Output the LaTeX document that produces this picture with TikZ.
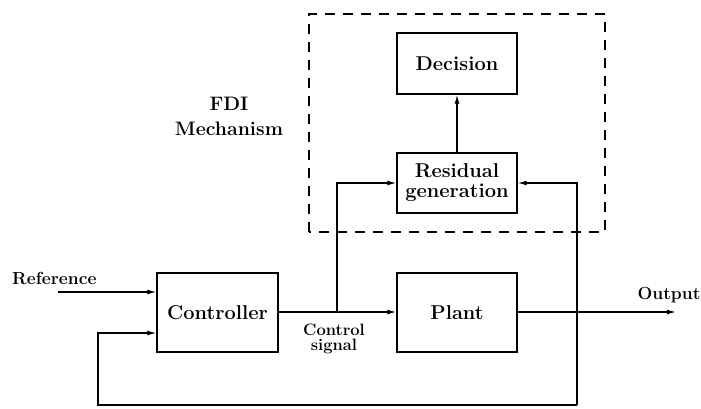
\documentclass[tikz,border=0pt]{standalone}
\usetikzlibrary{arrows.meta}
\begin{document}
\begin{tikzpicture}[x=1pt,y=-1pt,
  blk/.style={draw,line width=1.4pt,minimum width=120pt,inner sep=0pt,font=\fontsize{20}{20}\selectfont\bfseries,align=center},
  lbl/.style={font=\fontsize{17.5}{19}\selectfont\bfseries,align=center,inner sep=0pt},
  wire/.style={line width=1.3pt},
  arr/.style={wire,-{Latex[length=9pt,width=5pt]}},
  fdi/.style={line width=1.4pt,dash pattern=on 10pt off 8pt}]
\useasboundingbox (0,0) rectangle (701,408);
% fault detection and isolation block
\draw[fdi] (309,232) -- (309,14) -- (605,14) -- (605,232) -- cycle;
\node[lbl,font=\fontsize{19.5}{25}\selectfont\bfseries] (fdilbl) at (229,116) {FDI\\Mechanism};
% blocks
\node[blk,minimum height=61pt] (dec) at (457,63.5) {Decision};
\node[blk,minimum height=60pt] (res) at (457,183) {Residual\\generation};
\node[blk,minimum width=121pt,minimum height=79pt] (ctl) at (217.5,312.5) {Controller};
\node[blk,minimum height=79pt] (plt) at (457,312.5) {Plant};
% labels
\node[lbl,anchor=west] (reflbl) at (12,278) {Reference};
\node[lbl] (outlbl) at (669,295) {Output};
\node[lbl,font=\fontsize{16.5}{15}\selectfont\bfseries] (siglbl) at (334,339) {Control\\signal};
% connector points
\coordinate (refin) at (58,292);
\coordinate (outend) at (676,312);
\coordinate (tapu) at (337,312);
\coordinate (tapy) at (577,312);
\coordinate (fbr) at (577,405);
\coordinate (fbl) at (98,405);
% signal flow
\draw[arr] (refin) -- (refin -| ctl.west);
\draw[arr] (ctl.east |- tapu) -- (plt.west |- tapu);
\draw[arr] (tapu) -- (tapu |- res.west) -- (res.west);
\draw[arr] (plt.east |- tapy) -- (outend);
\draw[arr] (fbr) -- (tapy |- res.east) -- (res.east);
\draw[arr] (fbr) -- (fbl) -- (fbl |- 0,333) -- (ctl.west |- 0,333);
\draw[arr] (res.north) -- (dec.south);
\end{tikzpicture}
\end{document}
